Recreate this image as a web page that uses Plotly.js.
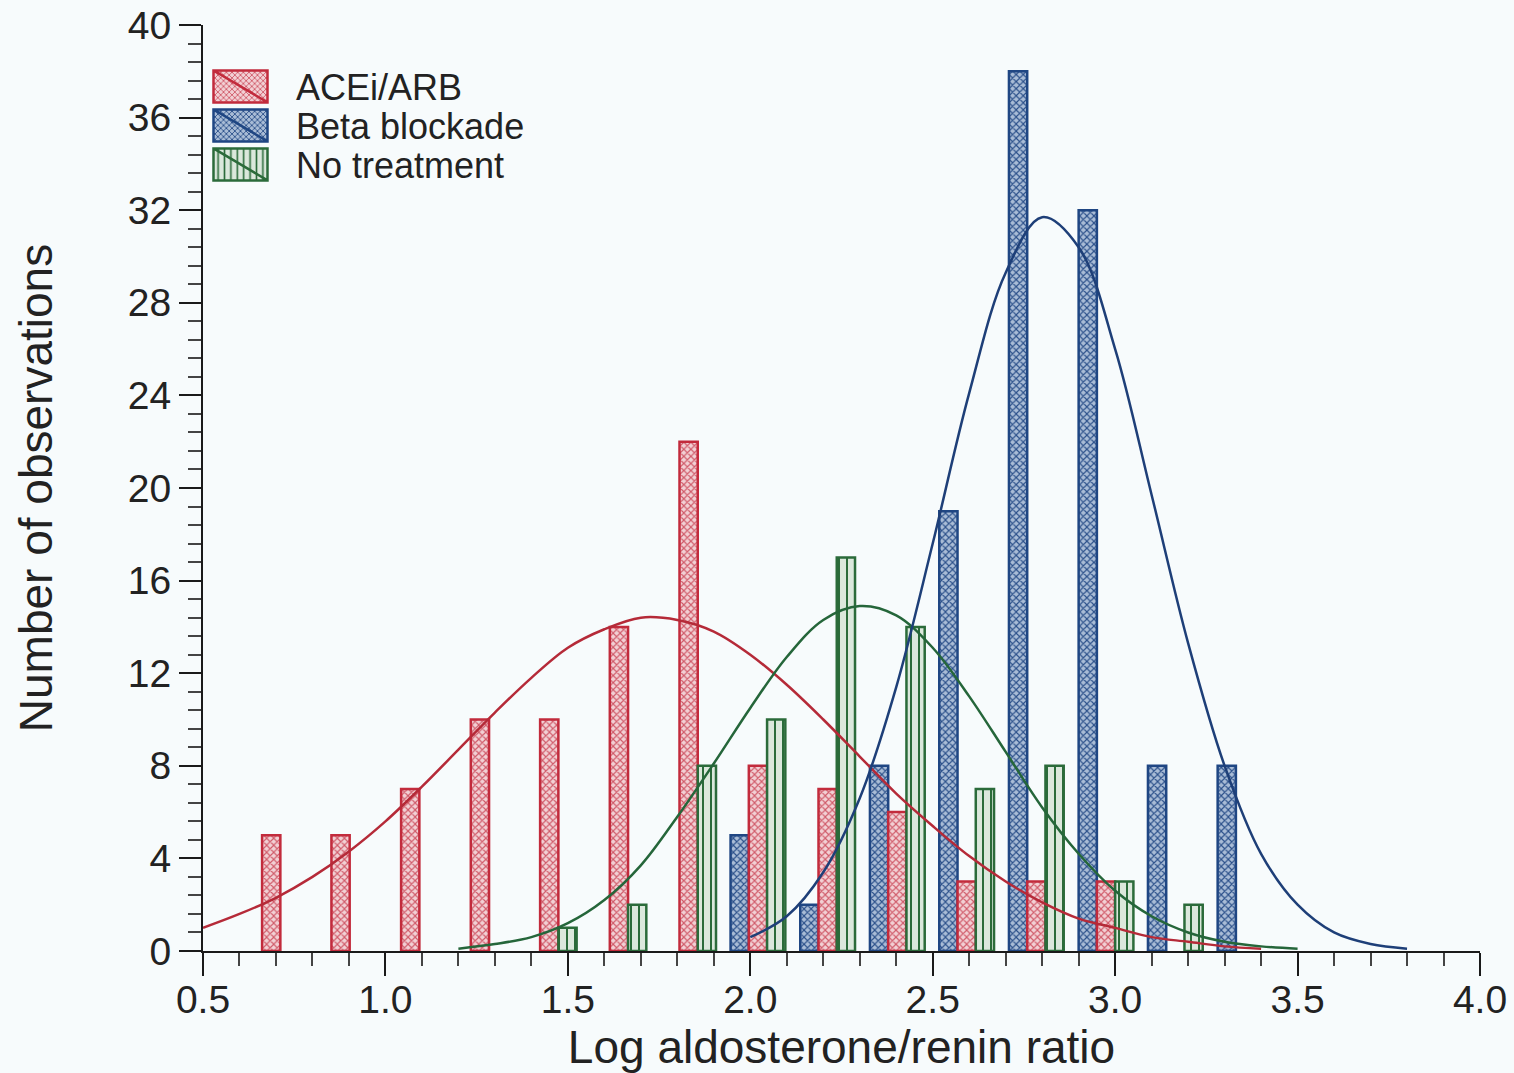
<!DOCTYPE html>
<html>
<head>
<meta charset="utf-8">
<script src="https://cdn.plot.ly/plotly-3.0.1.min.js"></script>
<style>
  html, body { margin: 0; padding: 0; background: #f7fbfc; }
  #chart { width: 1514px; height: 1073px; }
</style>
</head>
<body>
<div id="chart"></div>
<script>
// ---- Data ----
// Histogram bin centres (log aldosterone/renin ratio)
const binCenters = [0.687, 0.877, 1.068, 1.259, 1.449, 1.640, 1.831, 2.021, 2.212, 2.403, 2.593, 2.784, 2.975, 3.165, 3.356];

// ACEi/ARB counts (bins 0..12)
const aceBins = binCenters.slice(0, 13);
const aceCounts = [5, 5, 7, 10, 10, 14, 22, 8, 7, 6, 3, 3, 3];

// Beta blockade counts (bins 7..14)
const betaBins = binCenters.slice(7, 15);
const betaCounts = [5, 2, 8, 19, 38, 32, 8, 8];

// No treatment counts (bins 4..13)
const noTxBins = binCenters.slice(4, 14);
const noTxCounts = [1, 2, 8, 10, 17, 14, 7, 8, 3, 2];

// Fitted curves
const aceCurveX = [0.5,0.6,0.7,0.8,0.9,1.0,1.1,1.2,1.3,1.4,1.5,1.6,1.7,1.8,1.9,2.0,2.1,2.2,2.3,2.4,2.5,2.6,2.7,2.8,2.9,3.0,3.1,3.2,3.3,3.4];
const aceCurveY = [1.0,1.6,2.3,3.2,4.3,5.6,7.1,8.7,10.3,11.8,13.1,13.9,14.4,14.3,13.8,12.8,11.5,10.0,8.4,6.8,5.4,4.1,3.0,2.1,1.4,1.0,0.6,0.4,0.2,0.1];

const noTxCurveX = [1.2,1.3,1.4,1.5,1.6,1.7,1.8,1.9,2.0,2.1,2.2,2.3,2.4,2.5,2.6,2.7,2.8,2.9,3.0,3.1,3.2,3.3,3.4,3.5];
const noTxCurveY = [0.1,0.3,0.6,1.2,2.2,3.7,5.8,8.1,10.5,12.7,14.3,14.9,14.5,13.1,11.0,8.6,6.2,4.2,2.6,1.5,0.8,0.4,0.2,0.1];

const betaCurveX = [2.0,2.1,2.2,2.3,2.4,2.5,2.6,2.7,2.8,2.9,3.0,3.1,3.2,3.3,3.4,3.5,3.6,3.7,3.8];
const betaCurveY = [0.6,1.5,3.4,6.6,11.4,17.6,24.1,29.3,31.7,30.4,26.0,19.7,13.3,8.0,4.2,2.0,0.8,0.3,0.1];

// Labels
const seriesNames = ['ACEi/ARB', 'Beta blockade', 'No treatment'];
const xTitle = 'Log aldosterone/renin ratio';
const yTitle = 'Number of observations';

// ---- Styles ----
const RED = '#c22b3c';
const BLUE = '#1f4683';
const GREEN = '#2b6b3a';
const FONT = 'Liberation Sans, Arial, Helvetica, sans-serif';

const traces = [
  { // group order left->right: blue, red, green
    type: 'bar', name: seriesNames[1], x: betaBins, y: betaCounts, legendrank: 2,
    marker: { color: '#9fb3cf', line: { color: BLUE, width: 2.5 },
      pattern: { shape: 'x', fgcolor: '#2b508a', bgcolor: '#a9bcd6', size: 5, solidity: 0.4 } }
  },
  {
    type: 'bar', name: seriesNames[0], x: aceBins, y: aceCounts, legendrank: 1,
    marker: { color: '#ecb6bd', line: { color: RED, width: 2.5 },
      pattern: { shape: 'x', fgcolor: '#d05a69', bgcolor: '#f2d0d4', size: 5, solidity: 0.4 } }
  },
  {
    type: 'bar', name: seriesNames[2], x: noTxBins, y: noTxCounts, legendrank: 3,
    marker: { color: '#d5e5d6', line: { color: GREEN, width: 2.5 },
      pattern: { shape: '|', fgcolor: GREEN, bgcolor: '#dbe8dc', size: 8, solidity: 0.25 } }
  },
  { type: 'scatter', mode: 'lines', x: aceCurveX, y: aceCurveY, showlegend: false, hoverinfo: 'skip',
    line: { color: '#b52a38', width: 2.5, shape: 'spline' } },
  { type: 'scatter', mode: 'lines', x: noTxCurveX, y: noTxCurveY, showlegend: false, hoverinfo: 'skip',
    line: { color: '#25663a', width: 2.5, shape: 'spline' } },
  { type: 'scatter', mode: 'lines', x: betaCurveX, y: betaCurveY, showlegend: false, hoverinfo: 'skip',
    line: { color: '#1e3f78', width: 2.5, shape: 'spline' } }
];

const layout = {
  width: 1514, height: 1073,
  margin: { l: 203, r: 34, t: 25, b: 122 },
  paper_bgcolor: '#f7fbfc', plot_bgcolor: '#f7fbfc',
  font: { family: FONT, color: '#222222', size: 38 },
  barmode: 'group', bargap: 0.21, bargroupgap: 0,
  showlegend: true,
  legend: {
    x: -0.0141, y: 0.966, xanchor: 'left', yanchor: 'top',
    bgcolor: 'rgba(0,0,0,0)', font: { size: 36, color: '#222222' },
    itemwidth: 101, tracegroupgap: 0
  },
  xaxis: {
    range: [0.5, 4.0], showgrid: false, zeroline: false,
    showline: true, linecolor: '#1a1a1a', linewidth: 2,
    ticks: 'outside', ticklen: 23, tickwidth: 2, tickcolor: '#1a1a1a',
    dtick: 0.5, tick0: 0.5, tickformat: '.1f',
    ticklabelstandoff: -10,
    tickfont: { size: 39, color: '#222222' },
    minor: { dtick: 0.1, ticks: 'outside', ticklen: 13, tickwidth: 2, tickcolor: '#444444' },
    title: { text: xTitle, font: { size: 46, color: '#222222' }, standoff: 14 }
  },
  yaxis: {
    range: [0, 40], showgrid: false, zeroline: false,
    showline: true, linecolor: '#1a1a1a', linewidth: 2,
    ticks: 'outside', ticklen: 22, tickwidth: 2, tickcolor: '#1a1a1a',
    dtick: 4, tick0: 0,
    tickfont: { size: 39, color: '#222222' },
    minor: { dtick: 0.8, ticks: 'outside', ticklen: 13, tickwidth: 2, tickcolor: '#444444' },
    title: { text: yTitle, font: { size: 46, color: '#222222' }, standoff: 61 }
  }
};

Plotly.newPlot('chart', traces, layout, { displayModeBar: false, staticPlot: true }).then(function (gd) {
  // Legend look of the reference: large rectangular swatches with a diagonal, tight rows
  const items = gd.querySelectorAll('.legend .traces');
  let y0 = null;
  items.forEach(function (g, i) {
    const t = g.getAttribute('transform') || '';
    const m = /translate\(\s*([-\d.]+)[\s,]+([-\d.]+)\s*\)/.exec(t);
    if (m) {
      const x = parseFloat(m[1]);
      if (y0 === null) y0 = parseFloat(m[2]);
      g.setAttribute('transform', 'translate(' + x + ',' + (y0 + i * 39) + ')');
    }
    g.querySelectorAll('.legendpoints path').forEach(function (p) {
      p.setAttribute('d', 'M27,16H-27V-16H27ZM-27,-16L27,16');
    });
  });
});
</script>
</body>
</html>
